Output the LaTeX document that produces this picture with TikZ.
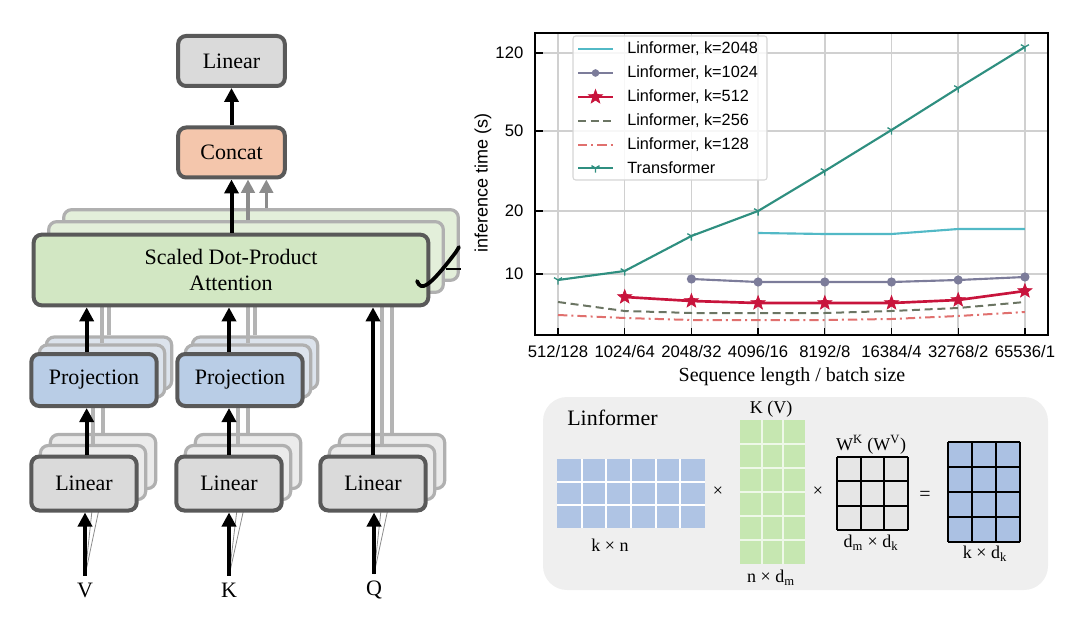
\documentclass[tikz,border=0pt]{standalone}
\usepackage{fontspec}
\setmainfont{Liberation Serif}
\newfontfamily\chartfont{Liberation Sans}
\usetikzlibrary{arrows.meta,plotmarks}
\definecolor{bordgray}{HTML}{595959}
\definecolor{backgray}{HTML}{B0B0B0}
\definecolor{linfill}{HTML}{DADADA}
\definecolor{linback}{HTML}{EBEBEB}
\definecolor{concatfill}{HTML}{F4C6AC}
\definecolor{attnfill}{HTML}{D2E7C3}
\definecolor{attnback}{HTML}{E3EFDA}
\definecolor{projfill}{HTML}{B9CDE6}
\definecolor{projback}{HTML}{DCE3EC}
\definecolor{arrgray}{HTML}{8C8C8C}
\definecolor{glinegray}{HTML}{B4B4B4}
\definecolor{gridc}{HTML}{D0D0D0}
\definecolor{ctrans}{HTML}{2F8F80}
\definecolor{c2048}{HTML}{52B9C6}
\definecolor{c1024}{HTML}{7C7C9A}
\definecolor{c512}{HTML}{C8143C}
\definecolor{c256}{HTML}{6B7563}
\definecolor{c128}{HTML}{E0706E}
\definecolor{legc}{HTML}{D6D6D6}
\definecolor{panelc}{HTML}{EFEFEF}
\definecolor{cellblue}{HTML}{AFC4E4}
\definecolor{cellgreen}{HTML}{C6E7B1}
\definecolor{cellgray}{HTML}{E6E6E6}
\definecolor{resblue}{HTML}{ABC1E3}
\pgfdeclareplotmark{fstar}{%
  \pgfpathmoveto{\pgfqpointpolar{90}{\pgfplotmarksize}}%
  \pgfpathlineto{\pgfqpointpolar{126}{0.42\pgfplotmarksize}}%
  \pgfpathlineto{\pgfqpointpolar{162}{\pgfplotmarksize}}%
  \pgfpathlineto{\pgfqpointpolar{198}{0.42\pgfplotmarksize}}%
  \pgfpathlineto{\pgfqpointpolar{234}{\pgfplotmarksize}}%
  \pgfpathlineto{\pgfqpointpolar{270}{0.42\pgfplotmarksize}}%
  \pgfpathlineto{\pgfqpointpolar{306}{\pgfplotmarksize}}%
  \pgfpathlineto{\pgfqpointpolar{342}{0.42\pgfplotmarksize}}%
  \pgfpathlineto{\pgfqpointpolar{18}{\pgfplotmarksize}}%
  \pgfpathlineto{\pgfqpointpolar{54}{0.42\pgfplotmarksize}}%
  \pgfpathclose\pgfusepathqfillstroke}
\begin{document}
\begin{tikzpicture}[x=0.75pt,y=-0.75pt,
  box/.style={draw=bordgray, line width=3pt, rounded corners=6pt, font=\fontsize{16.5}{19.5}\selectfont, align=center, inner sep=0pt},
  backbox/.style={draw=backgray, line width=2.4pt, rounded corners=6pt, inner sep=0pt},
  attnsize/.style={minimum width=296pt, minimum height=53pt},
  projsize/.style={minimum width=94pt, minimum height=39pt},
  linsize/.style={minimum width=79pt, minimum height=40.5pt},
  topsize/.style={minimum width=80pt, minimum height=37.5pt},
  arr/.style={line width=3pt, -{Triangle[length=10.5pt,width=10.5pt]}},
  garr/.style={draw=arrgray, line width=2.6pt, -{Triangle[length=10pt,width=10pt]}},
  gline/.style={draw=glinegray, line width=2.4pt},
  fan/.style={draw=arrgray, line width=0.6pt},
  lbl/.style={font=\fontsize{16.5}{18}\selectfont, inner sep=5pt},
  cfont/.style={font=\chartfont\fontsize{12.5}{14}\selectfont},
  legfont/.style={font=\chartfont\fontsize{12.2}{14}\selectfont, anchor=west, inner sep=0pt},
  plab/.style={font=\fontsize{13.5}{15}\selectfont, inner sep=1pt},
]
\useasboundingbox (0,0) rectangle (1080,620);

% ---------------- left: multi-head attention ----------------
% back copies
\node[backbox, fill=attnback, attnsize] (attn3) at (261,245) {};
\node[backbox, fill=attnback, attnsize] (attn2) at (246,257) {};
\node[backbox, fill=projback, projsize] (projV3) at (109,363) {};
\node[backbox, fill=projback, projsize] (projV2) at (102,371) {};
\node[backbox, fill=projback, projsize] (projK3) at (255,363) {};
\node[backbox, fill=projback, projsize] (projK2) at (248,371) {};
\node[backbox, fill=linback, linsize] (linV3) at (103,461.5) {};
\node[backbox, fill=linback, linsize] (linV2) at (93,472.5) {};
\node[backbox, fill=linback, linsize] (linK3) at (248,461.5) {};
\node[backbox, fill=linback, linsize] (linK2) at (238,472.5) {};
\node[backbox, fill=linback, linsize] (linQ3) at (392,461.5) {};
\node[backbox, fill=linback, linsize] (linQ2) at (382,472.5) {};

% input labels
\node[lbl] (V) at (85,590) {V};
\node[lbl] (K) at (229,590) {K};
\node[lbl] (Q) at (374,590) {Q};

% gray lines of the back copies
\draw[fan] (V.north) -- (linV2.south);
\draw[fan] (V.north) -- (linV3.south);
\draw[fan] (K.north) -- (linK2.south);
\draw[fan] (K.north) -- (linK3.south);
\draw[fan] (Q.north) -- (linQ2.south);
\draw[fan] (Q.north) -- (linQ3.south);
\draw[gline] (linV2.north) -- (linV2.north |- projV2.south);
\draw[gline] (linV3.north) -- (linV3.north |- projV3.south);
\draw[gline] (linK2.north) -- (linK2.north |- projK2.south);
\draw[gline] (linK3.north) -- (linK3.north |- projK3.south);
\draw[gline] (projV2.north) -- (projV2.north |- attn2.south);
\draw[gline] (projV3.north) -- (projV3.north |- attn3.south);
\draw[gline] (projK2.north) -- (projK2.north |- attn2.south);
\draw[gline] (projK3.north) -- (projK3.north |- attn3.south);
\draw[gline] (linQ2.north) -- (linQ2.north |- attn2.south);
\draw[gline] (linQ3.north) -- (linQ3.north |- attn3.south);

% front boxes
\node[box, fill=linfill, topsize] (lintop) at (231.5,61) {Linear};
\node[box, fill=concatfill, topsize] (concat) at (231.5,152.5) {Concat};
\node[box, fill=attnfill, attnsize] (attn) at (231,270) {Scaled Dot-Product\\Attention};
\node[box, fill=projfill, projsize] (projV) at (94,380) {Projection};
\node[box, fill=projfill, projsize] (projK) at (240,380) {Projection};
\node[box, fill=linfill, linsize] (linV) at (84,483.5) {Linear};
\node[box, fill=linfill, linsize] (linK) at (229,483.5) {Linear};
\node[box, fill=linfill, linsize] (linQ) at (373,483.5) {Linear};

% head marker
\draw[line width=2.8pt, line cap=round] (417,281) .. controls (421,291) and (428,289) .. (456,252) -- (459,247);
\draw[line width=1pt] (446,269) -- (461,269);

% arrows
\draw[arr] (V.north) -- (V.north |- linV.south);
\draw[arr] (K.north) -- (K.north |- linK.south);
\draw[arr] (Q.north) -- (Q.north |- linQ.south);
\draw[arr] ([xshift=2pt]linV.north) -- ([xshift=2pt]linV.north |- projV.south);
\draw[arr] ([xshift=2pt]linV.north |- projV.north) -- ([xshift=2pt]linV.north |- attn.south);
\draw[arr] (linK.north) -- (linK.north |- projK.south);
\draw[arr] (linK.north |- projK.north) -- (linK.north |- attn.south);
\draw[arr] (linQ.north) -- (linQ.north |- attn.south);
\draw[arr] (attn.north -| concat) -- (concat.south);
\draw[arr] (concat.north) -- (lintop.south);
\draw[garr] ([xshift=1.5pt]attn2.north) -- ([xshift=1.5pt]attn2.north |- concat.south);
\draw[garr] ([xshift=4pt]attn3.north) -- ([xshift=4pt]attn3.north |- concat.south);

% ---------------- top right: chart ----------------
\foreach \i in {0,...,7} \draw[gridc, line width=1.1pt] ({558+66.7*\i},33) -- ({558+66.7*\i},335);
\foreach \yy in {53,131,211,274} \draw[gridc, line width=1.1pt] (535,\yy) -- (1048,\yy);

\draw[c128, line width=1.5pt, dash pattern=on 7pt off 3pt on 1.5pt off 3pt] plot coordinates {(558,315) (624.7,318) (691.4,320) (758.1,320) (824.8,320) (891.5,319) (958.2,316) (1024.9,312)};
\draw[c256, line width=1.5pt, dash pattern=on 6pt off 3.5pt] plot coordinates {(558,302) (624.7,311) (691.4,313) (758.1,313) (824.8,313) (891.5,311) (958.2,308) (1024.9,302)};
\draw[c512, line width=2pt, mark=fstar, mark size=5.5pt, mark options={fill=c512,line width=0.5pt}] plot coordinates {(624.7,297) (691.4,301) (758.1,303) (824.8,303) (891.5,303) (958.2,300) (1024.9,291)};
\draw[c1024, line width=1.6pt, mark=*, mark size=2.6pt, mark options={fill=c1024}] plot coordinates {(691.4,279) (758.1,282) (824.8,282) (891.5,282) (958.2,280) (1024.9,277)};
\draw[c2048, line width=1.6pt] plot coordinates {(758.1,233) (824.8,234) (891.5,234) (958.2,229) (1024.9,229)};
\draw[ctrans, line width=1.6pt, mark=Mercedes star flipped, mark size=3.5pt, mark options={line width=1pt}] plot coordinates {(558,280) (624.7,271) (691.4,236) (758.1,211) (824.8,171) (891.5,130) (958.2,88) (1024.9,47)};

% ticks and frame
\foreach \yy in {53,131,211,274} \draw[line width=1pt] (535,\yy) -- (543,\yy);
\foreach \i in {0,...,7} \draw[line width=1pt] ({558+66.7*\i},335) -- ({558+66.7*\i},328);
\draw[line width=1.2pt] (535,33) rectangle (1048,335);

\node[cfont, anchor=east] (y120) at (528,53) {120};
\node[cfont, anchor=east] (y50) at (528,131) {50};
\node[cfont, anchor=east] (y20) at (528,211) {20};
\node[cfont, anchor=east] (y10) at (528,274) {10};
\node[cfont] (x0) at (558,352) {512/128};
\node[cfont] (x1) at (624.7,352) {1024/64};
\node[cfont] (x2) at (691.4,352) {2048/32};
\node[cfont] (x3) at (758.1,352) {4096/16};
\node[cfont] (x4) at (824.8,352) {8192/8};
\node[cfont] (x5) at (891.5,352) {16384/4};
\node[cfont] (x6) at (958.2,352) {32768/2};
\node[cfont] (x7) at (1024.9,352) {65536/1};
\node[font=\chartfont\fontsize{13.5}{15}\selectfont, rotate=90] (ylab) at (483,183) {inference time (s)};
\node[font=\fontsize{15}{17}\selectfont] (xlab) at (792,377) {Sequence length / batch size};

% legend
\draw[legc, fill=white, fill opacity=0.85, rounded corners=2pt, line width=0.8pt] (573,36) rectangle (767,180);
\draw[c2048, line width=1.6pt] (578,49) -- (613,49);
\draw[c1024, line width=1.6pt] (578,73) -- (613,73);
\path[mark=*, mark size=2.6pt, mark options={fill=c1024, draw=c1024}] plot coordinates {(595.5,73)};
\draw[c512, line width=2pt] (578,97) -- (613,97);
\path[mark=fstar, mark size=5.5pt, mark options={fill=c512, draw=c512, line width=0.5pt}] plot coordinates {(595.5,97)};
\draw[c256, line width=1.5pt, dash pattern=on 6pt off 3.5pt] (578,121) -- (613,121);
\draw[c128, line width=1.5pt, dash pattern=on 7pt off 3pt on 1.5pt off 3pt] (578,145) -- (613,145);
\draw[ctrans, line width=1.6pt] (578,168) -- (613,168);
\path[mark=Mercedes star flipped, mark size=3.5pt, mark options={draw=ctrans, line width=1pt}] plot coordinates {(595.5,168)};
\node[legfont] (l1) at (627,49) {Linformer, k=2048};
\node[legfont] (l2) at (627,73) {Linformer, k=1024};
\node[legfont] (l3) at (627,97) {Linformer, k=512};
\node[legfont] (l4) at (627,121) {Linformer, k=256};
\node[legfont] (l5) at (627,145) {Linformer, k=128};
\node[legfont] (l6) at (627,168) {Transformer};

% ---------------- bottom right: Linformer projection ----------------
\fill[panelc, rounded corners=18pt] (543,397) rectangle (1048,590);
\node[font=\fontsize{16.5}{18}\selectfont, anchor=west, inner sep=0pt] (ltitle) at (567,418) {Linformer};

% k x n
\fill[cellblue] (557,459) rectangle (705,528);
\foreach \i in {1,...,5} \draw[white, line width=1.6pt] ({557+24.67*\i},459) -- ({557+24.67*\i},528);
\foreach \j in {1,2} \draw[white, line width=1.6pt] (557,{459+23*\j}) -- (705,{459+23*\j});
\node[plab] (m1lab) at (610,545) {k × n};
\node[plab] (times1) at (718,492) {×};

% K (V)
\fill[cellgreen] (740,420) rectangle (805,564);
\foreach \i in {1,2} \draw[white!70!cellgreen, line width=1.4pt] ({740+21.67*\i},420) -- ({740+21.67*\i},564);
\foreach \j in {1,...,5} \draw[white!70!cellgreen, line width=1.4pt] (740,{420+24*\j}) -- (805,{420+24*\j});
\node[plab] (m2top) at (771,409) {K (V)};
\node[plab] (m2lab) at (771,578) {n × d\textsubscript{m}};
\node[plab] (times2) at (818,492) {×};

% W
\fill[cellgray] (837,457) rectangle (908,530);
\foreach \i in {0,...,3} \draw[black, line width=1.5pt] ({837+23.67*\i},457) -- ({837+23.67*\i},530);
\foreach \j in {0,...,3} \draw[black, line width=1.5pt] (837,{457+24.33*\j}) -- (908,{457+24.33*\j});
\node[plab] (m3top) at (871,445) {W\textsuperscript{K} (W\textsuperscript{V})};
\node[plab] (m3lab) at (871,543) {d\textsubscript{m} × d\textsubscript{k}};
\node[font=\fontsize{15}{16}\selectfont] (eq) at (925,496) {=};

% result
\fill[resblue] (948,442) rectangle (1020,542);
\foreach \i in {0,...,3} \draw[black, line width=1.5pt] ({948+24*\i},442) -- ({948+24*\i},542);
\foreach \j in {0,...,4} \draw[black, line width=1.5pt] (948,{442+25*\j}) -- (1020,{442+25*\j});
\node[plab] (m4lab) at (985,554) {k × d\textsubscript{k}};
\end{tikzpicture}
\end{document}
